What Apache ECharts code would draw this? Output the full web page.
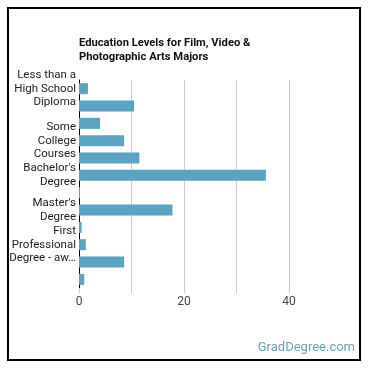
<!DOCTYPE html>
<html lang="en">
<head>
    <meta charset="UTF-8">
    <title>Education Levels</title>
    <script src="https://cdn.jsdelivr.net/npm/echarts@6/dist/echarts.min.js"></script>
    <style>
        html, body {margin: 0; padding: 0; background: #fff;}
        .frame {position: absolute; left: 7px; top: 7px; width: 350px; height: 350px; border: 2px solid #000;}
        #chart {position: absolute; left: 0; top: 0; width: 370px; height: 370px;}
    </style>
</head>
<body>
    <div class="frame"></div>
    <div id="chart"></div>
    <script type="text/javascript">
        // categories in plot order (top to bottom)
        let categories = [
            'Less than a High School Diploma',
            'High School Diploma',
            'Post-Secondary Certificate',
            'Some College Courses',
            "Associate's Degree",
            "Bachelor's Degree",
            'Post-Baccalaureate Certificate',
            "Master's Degree",
            "Post-Master's Certificate",
            'First Professional Degree - awarded for completion of a program',
            'Doctoral Degree',
            'Post-Doctoral Training'
        ];
        // labels the original chart actually shows (others are skipped)
        let tickLabels = [
            'Less than a\nHigh School\nDiploma', '', '',
            'Some\nCollege\nCourses', '',
            "Bachelor's\nDegree", '',
            "Master's\nDegree", '',
            'First\nProfessional\nDegree - aw…', '', ''
        ];
        let percents = [1.7, 10.5, 4.0, 8.6, 11.5, 35.6, 0.2, 17.8, 0.5, 1.3, 8.6, 1.0];
        let xTicks = [0, 20, 40];

        let myChart = echarts.init(document.getElementById('chart'));
        let option = {
            animation: false,
            textStyle: {fontFamily: 'Roboto'},
            title: {
                text: 'Education Levels for Film, Video &\nPhotographic Arts Majors',
                left: 74,
                top: 31,
                textStyle: {fontSize: 11.2, fontWeight: 'bold', color: '#111', lineHeight: 14, fontFamily: 'Roboto'}
            },
            graphic: [{
                type: 'text',
                right: 15,
                top: 341,
                style: {text: 'GradDegree.com', fill: '#6a9fba', font: '13px Roboto'}
            }],
            grid: {left: 79, right: 81, top: 80, bottom: 82, containLabel: false},
            xAxis: {
                type: 'value',
                min: 0,
                max: 40,
                interval: 10,
                axisLine: {show: false},
                axisTick: {show: true, length: 5, lineStyle: {color: '#ccc'}},
                splitLine: {lineStyle: {color: '#ccc'}},
                axisLabel: {
                    color: '#444',
                    fontSize: 12,
                    margin: 8,
                    formatter: v => xTicks.indexOf(v) >= 0 ? String(v) : ''
                }
            },
            yAxis: {
                type: 'category',
                inverse: true,
                data: categories,
                axisLine: {lineStyle: {color: '#000', width: 1}},
                axisTick: {show: false},
                axisLabel: {
                    interval: 0,
                    color: '#222',
                    fontSize: 11.5,
                    lineHeight: 13.6,
                    margin: 3,
                    formatter: (v, i) => tickLabels[i]
                }
            },
            series: [{
                type: 'bar',
                data: percents,
                barWidth: 11,
                itemStyle: {color: '#5ba3c0'}
            }]
        };
        myChart.setOption(option);
    </script>
</body>
</html>
